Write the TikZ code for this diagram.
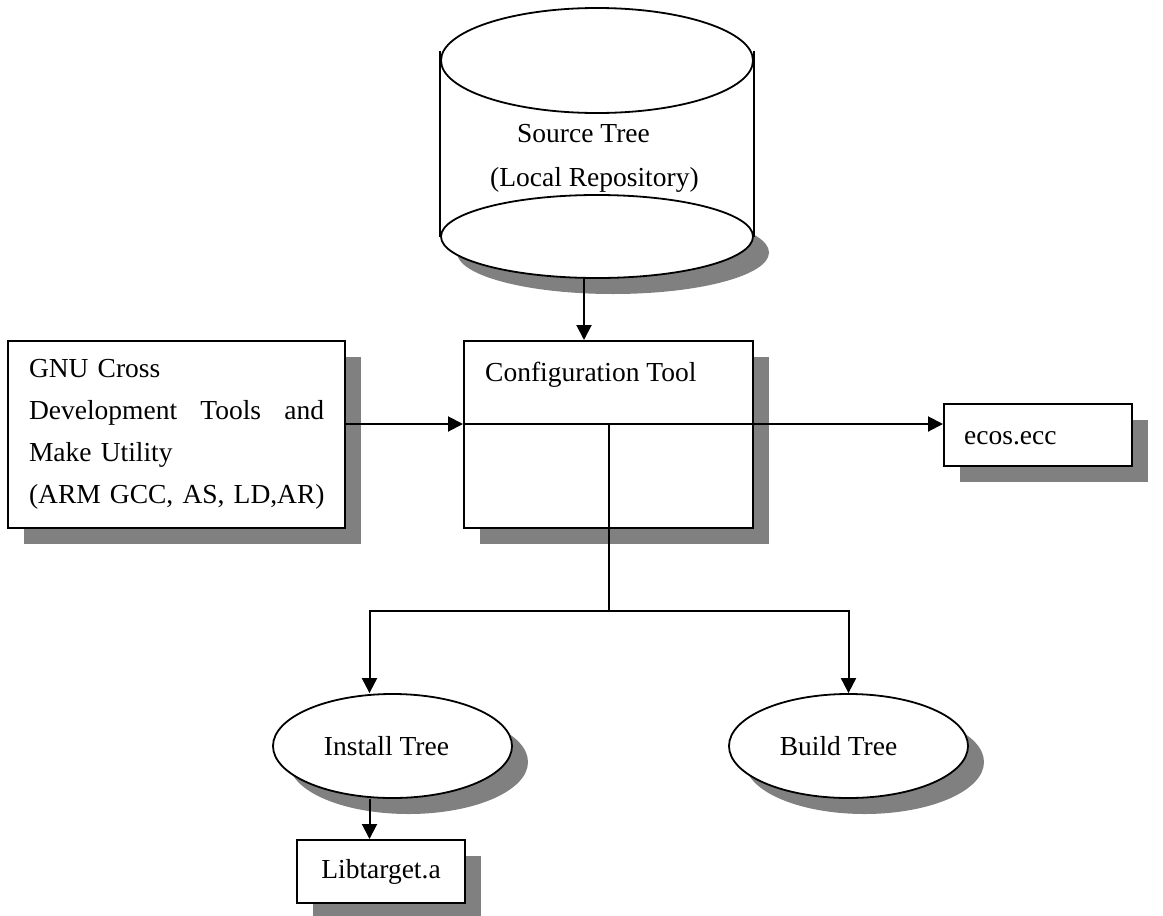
\documentclass[tikz,border=0pt]{standalone}
\usepackage{fontspec}
\setmainfont{Liberation Serif}
\usetikzlibrary{arrows.meta,shadows,shapes.geometric}
\definecolor{shadowgray}{RGB}{128,128,128}
\tikzset{
  every node/.style={font=\fontsize{27.5}{42}\selectfont},
  dropgray/.style={drop shadow={shadow xshift=16pt, shadow yshift=-16pt, fill=shadowgray, opacity=1}},
  box/.style={draw, line width=2pt, fill=white, inner sep=0pt, dropgray},
  oval/.style={ellipse, draw, line width=1.8pt, fill=white, inner sep=0pt},
  arr/.style={line width=2pt, -{Triangle[length=15pt,width=15pt]}},
  line/.style={line width=2pt}
}
\begin{document}
\begin{tikzpicture}[x=1pt,y=-1pt]
\useasboundingbox (0,0) rectangle (1163,916);
% source tree cylinder
\fill[shadowgray] (613,252.5) ellipse [x radius=156, y radius=41.5];
\fill[white] (441,60.5) rectangle (753,236.5);
\node[oval, minimum width=312pt, minimum height=83pt] (srcbot) at (597,236.5) {};
\node[oval, minimum width=312pt, minimum height=105pt] (srctop) at (597,60.5) {};
\draw[line] ([yshift=10pt]srctop.west) -- (srcbot.west);
\draw[line] ([yshift=10pt]srctop.east) -- (srcbot.east);
\node[anchor=north west, align=left, inner sep=0pt, font=\fontsize{27.5}{44}\selectfont] (srclabel) at (490,124.5) {\hspace*{27pt}Source Tree\\(Local Repository)};
% boxes
\node[box, minimum width=337pt, minimum height=187pt, text width=295pt, align=left] (gnu) at (176.5,434.5) {GNU Cross\\ Development\hfill Tools\hfill and\\ Make Utility\\ \mbox{(ARM GCC, AS, LD,AR)}};
\node[box, minimum width=289pt, minimum height=187pt] (config) at (608.5,434.5) {};
\node[anchor=base west, inner sep=0pt] (configtxt) at ([xshift=22pt,yshift=-41pt]config.north west) {Configuration Tool};
\node[box, minimum width=188pt, minimum height=62pt] (ecos) at (1038,435) {};
\node[anchor=base west, inner sep=0pt] (ecostxt) at ([xshift=21pt,yshift=-41pt]ecos.north west) {ecos.ecc};
\node[oval, dropgray, minimum width=239pt, minimum height=104pt] (install) at (392.5,746) {Install Tree\hspace*{12pt}};
\node[oval, dropgray, minimum width=239pt, minimum height=104pt] (build) at (848.5,746) {Build Tree\hspace*{20pt}};
\node[box, minimum width=168pt, minimum height=63pt] (lib) at (381,871.5) {Libtarget.a};
% connectors
\coordinate (hub) at ([yshift=-84pt]config.north);
\coordinate (split) at ([yshift=-187pt]hub);
\draw[arr] ([xshift=-13pt]srcbot.south) -- ([xshift=-13pt]srcbot.south |- config.north);
\draw[arr] (gnu.east |- hub) -- (config.west |- hub);
\draw[arr] (config.west |- hub) -- (ecos.west |- hub);
\draw[line] (hub) -- (split);
\draw[arr] (split) -| ([xshift=-23pt]install.north);
\draw[arr] (split) -| (build.north);
\draw[arr] ([xshift=-23pt]install.south) -- ([xshift=-23pt]install.south |- lib.north);
\end{tikzpicture}
\end{document}
